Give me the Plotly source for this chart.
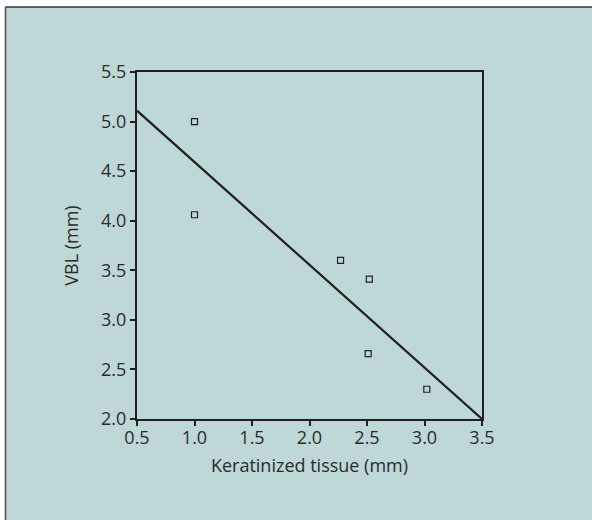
import plotly.graph_objects as go

# Data
keratinized_tissue = [1.0, 1.0, 2.27, 2.52, 2.51, 3.02]
vbl = [5.0, 4.06, 3.60, 3.41, 2.66, 2.30]
fit_x = [0.5, 3.5]
fit_y = [5.11, 2.0]
x_ticks = [0.5, 1.0, 1.5, 2.0, 2.5, 3.0, 3.5]
y_ticks = [2.0, 2.5, 3.0, 3.5, 4.0, 4.5, 5.0, 5.5]

W, H = 592, 520
ML, MR, MT, MB = 137, 110, 72, 101
pw, ph = W - ML - MR, H - MT - MB

def px(x):
    return (x - ML) / pw

def py(y):
    return (H - MB - y) / ph

BG = "#bdd8d7"
INK = "#231f20"
TXT = "#2b2b2b"
FONT = "Open Sans, Liberation Sans, Arial, sans-serif"

fig = go.Figure()
fig.add_trace(go.Scatter(x=fit_x, y=fit_y, mode="lines",
                         line=dict(color=INK, width=2.2), showlegend=False,
                         cliponaxis=False))
fig.add_trace(go.Scatter(x=keratinized_tissue, y=vbl, mode="markers",
                         marker=dict(symbol="square-open", size=6,
                                     color=INK, line=dict(width=1.2, color=INK)),
                         showlegend=False))

shapes = [
    dict(type="rect", xref="paper", yref="paper", x0=px(5.5), x1=px(W + 10),
         y0=py(H + 10), y1=py(7), fillcolor=BG, line=dict(width=0), layer="below"),
    dict(type="line", xref="paper", yref="paper", x0=px(5.5), x1=px(W + 10),
         y0=py(7), y1=py(7), line=dict(color="#333333", width=1.6), layer="below"),
    dict(type="line", xref="paper", yref="paper", x0=px(5.5), x1=px(5.5),
         y0=py(7), y1=py(H + 10), line=dict(color="#555555", width=1.6), layer="below"),
]

fig.update_layout(
    width=W, height=H,
    margin=dict(l=ML, r=MR, t=MT, b=MB, pad=0),
    paper_bgcolor="white",
    plot_bgcolor="rgba(0,0,0,0)",
    shapes=shapes,
    font=dict(family=FONT, size=18, color=TXT),
    xaxis=dict(range=[0.5, 3.5], tickvals=x_ticks, ticktext=[f"{v:.1f}" for v in x_ticks],
               showgrid=False, zeroline=False, showline=True, linecolor=INK, linewidth=2.2,
               mirror=True, ticks="outside", ticklen=5, tickwidth=2, tickcolor=INK,
               tickfont=dict(size=18, color=TXT), ticklabelstandoff=-4,
               title=dict(text="Keratinized tissue (mm)", font=dict(size=18, color=TXT), standoff=12)),
    yaxis=dict(range=[2.0, 5.5], tickvals=y_ticks, ticktext=[f"{v:.1f}" for v in y_ticks],
               showgrid=False, zeroline=False, showline=True, linecolor=INK, linewidth=2.2,
               mirror=True, ticks="outside", ticklen=5, tickwidth=2, tickcolor=INK,
               tickfont=dict(size=18, color=TXT),
               title=dict(text="VBL (mm)", font=dict(size=18, color=TXT), standoff=18)),
)

fig.write_html("out.html", config={"displayModeBar": False},
               post_script="document.body.style.margin='0';document.body.style.overflow='hidden';")
